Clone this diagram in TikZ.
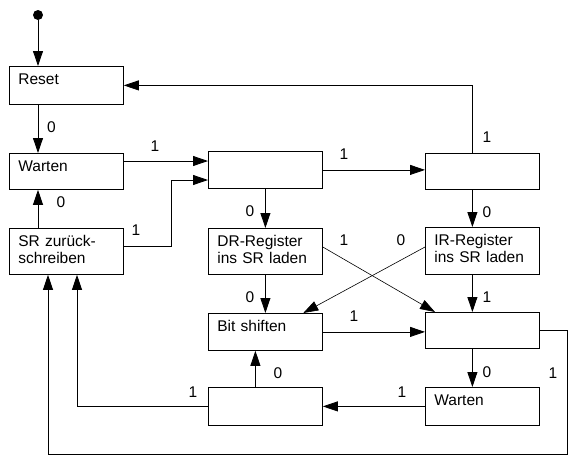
\documentclass[tikz,border=0pt]{standalone}
\usepackage{fontspec}
\setmainfont{Liberation Sans}
\usetikzlibrary{arrows.meta}
\begin{document}
\begin{tikzpicture}[x=1pt,y=-1pt,
  every node/.style={font=\fontsize{15.5}{17.5}\selectfont},
  box/.style={draw, line width=0.8pt, anchor=north west, inner xsep=9pt, inner ysep=0pt,
    text width=96pt, align=left, text height=18pt, text depth=#1},
  box/.default=19pt,
  arr/.style={line width=0.8pt, -{Triangle[length=15pt,width=10pt]}},
  thinarr/.style={line width=0.6pt, -{Triangle[length=15pt,width=10pt]}},
  lab/.style={inner sep=0pt},
]
\useasboundingbox (0,0) rectangle (586,472);

\node[circle, fill, inner sep=0pt, minimum size=10pt] (start) at (38,15) {};

\node[box=20pt] (reset) at (9,66) {Reset};
\node[box=18pt] (wait) at (9,153) {Warten};
\node[box=28pt] (sr) at (9,228) {SR zurück-\\schreiben};
\node[box=19pt] (a) at (208,151) {};
\node[box=18pt] (b) at (425,153) {};
\node[box=28pt] (dr) at (208,228) {DR-Register\\ins SR laden};
\node[box=29pt] (ir) at (425,227) {IR-Register\\ins SR laden};
\node[box=19pt] (bit) at (208,313) {Bit shiften};
\node[box=18pt] (c) at (425,312) {};
\node[box=20pt] (d) at (208,387) {};
\node[box=20pt] (w2) at (425,387) {Warten};

% connectors
\draw[arr] (start) -- (start |- reset.north);
\draw[arr] (start |- reset.south) -- (start |- wait.north);
\draw[arr] (start |- sr.north) -- (start |- wait.south);
\draw[arr] ([yshift=-8pt]wait.north east) -- ([yshift=-8pt]wait.north east -| a.west);
\draw[arr] ([yshift=-18pt]sr.north east) -- ++(47.5,0) |- ([yshift=-29pt]a.north west);
\draw[arr] (a.east) -- (a.east -| b.west);
\draw[arr] ([xshift=-10pt]b.north) |- (reset.east);
\draw[arr] (a.south) -- (dr.north);
\draw[arr] ([xshift=-10pt]b.south) -- ([xshift=-10pt]ir.north);
\draw[thinarr] ([yshift=-19pt]dr.north east) -- ([xshift=10pt]c.north west);
\draw[thinarr] ([yshift=-20pt]ir.north west) -- ([xshift=-19.5pt]bit.north east);
\draw[arr] (dr.south) -- (bit.north);
\draw[arr] ([xshift=-10pt]ir.south) -- ([xshift=-10pt]c.north);
\draw[arr] (bit.east) -- (bit.east -| c.west);
\draw[arr] ([xshift=-10pt]c.south) -- ([xshift=-10pt]w2.north);
\draw[arr] (c.east) -- ++(28,0) -- ++(0,124) -| ([xshift=39pt]sr.south west);
\draw[arr] (w2.west) -- (w2.west -| d.east);
\draw[arr] ([xshift=-10pt]d.north) -- ([xshift=-10pt]bit.south);
\draw[arr] (d.west) -| ([xshift=68pt]sr.south west);

% labels
\node[lab] (l1) at (51.5,127) {0};
\node[lab] (l2) at (61,202) {0};
\node[lab] (l3) at (155,146) {1};
\node[lab] (l4) at (136,230) {1};
\node[lab] (l5) at (250,211) {0};
\node[lab] (l6) at (344,154) {1};
\node[lab] (l7) at (487,137) {1};
\node[lab] (l8) at (487,212) {0};
\node[lab] (l9) at (344,240) {1};
\node[lab] (l10) at (401,240) {0};
\node[lab] (l11) at (487,297) {1};
\node[lab] (l12) at (250,297) {0};
\node[lab] (l13) at (354,316) {1};
\node[lab] (l14) at (487,372) {0};
\node[lab] (l15) at (553,373) {1};
\node[lab] (l16) at (402,392) {1};
\node[lab] (l17) at (278,373) {0};
\node[lab] (l18) at (193,392) {1};
\end{tikzpicture}
\end{document}
